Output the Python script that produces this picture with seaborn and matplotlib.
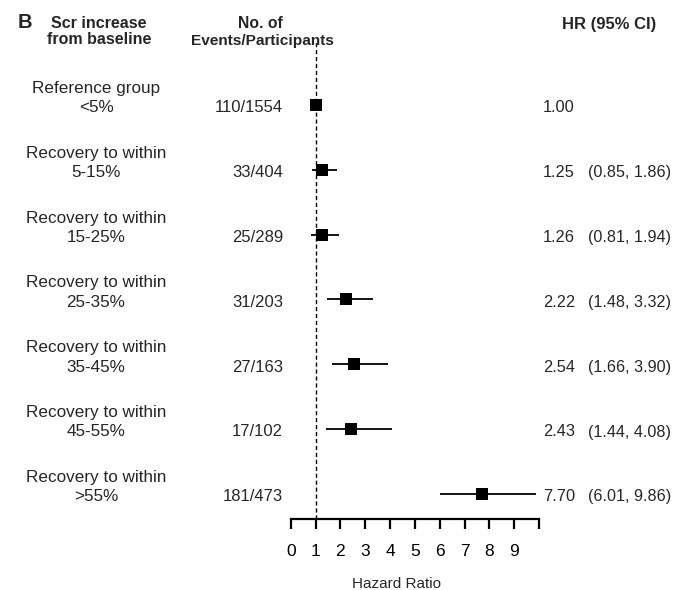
import matplotlib
matplotlib.use("Agg")
import matplotlib.pyplot as plt
import seaborn as sns
import pandas as pd

# ---- data ----
line1 = ["Reference group", "Recovery to within", "Recovery to within", "Recovery to within",
         "Recovery to within", "Recovery to within", "Recovery to within"]
line2 = ["<5%", "5-15%", "15-25%", "25-35%", "35-45%", "45-55%", ">55%"]
counts = ["110/1554", "33/404", "25/289", "31/203", "27/163", "17/102", "181/473"]
hr = [1.00, 1.25, 1.26, 2.22, 2.54, 2.43, 7.70]
lo = [None, 0.85, 0.81, 1.48, 1.66, 1.44, 6.01]
hi = [None, 1.86, 1.94, 3.32, 3.90, 4.08, 9.86]
tick_vals = list(range(0, 11))
tick_labels = ["0", "1", "2", "3", "4", "5", "6", "7", "8", "9", ""]

sns.set_theme(style="white")
plt.rcParams["font.family"] = ["Liberation Sans", "DejaVu Sans"]

W, H = 674, 590
fig = plt.figure(figsize=(W / 100, H / 100), dpi=100)
ax_left, ax_right, ax_top, ax_bot = 290.7, 539, 40, 519
ax = fig.add_axes([ax_left / W, (H - ax_bot) / H, (ax_right - ax_left) / W, (ax_bot - ax_top) / H])

df = pd.DataFrame({"row": range(len(hr)), "hr": hr})
row_px0, row_step = 105, 64.8
ylim_top = (ax_top - row_px0) / row_step
ylim_bot = (ax_bot - row_px0) / row_step

# CI lines
for i, (l, h) in enumerate(zip(lo, hi)):
    if l is not None:
        ax.hlines(i, l, h, color="black", lw=1.3, zorder=2)

ax.axvline(1, color="black", lw=1.0, ls=(0, (3, 2)), zorder=1)
sns.scatterplot(data=df, x="hr", y="row", marker="s", s=80, color="black",
                edgecolor="black", linewidth=0, ax=ax, zorder=3, legend=False)

ax.set_xlim(0, 10)
ax.set_ylim(ylim_bot, ylim_top)
ax.set_xticks(tick_vals)
ax.set_xticklabels(tick_labels, fontsize=12.5)
ax.set_yticks([])
ax.set_xlabel("")
ax.set_ylabel("")
for s in ["top", "right", "left"]:
    ax.spines[s].set_visible(False)
ax.spines["bottom"].set_linewidth(1.6)
ax.spines["bottom"].set_color("black")
ax.tick_params(axis="x", direction="out", length=7, width=1.6, color="black",
               bottom=True, pad=11, labelcolor="black")
ax.set_facecolor("none")


def ftext(x_px, y_base_px, s, **kw):
    fig.text(x_px / W, 1 - y_base_px / H, s, va="baseline", **kw)


for i in range(len(hr)):
    y = row_px0 + row_step * i
    ftext(96, y - 12, line1[i], ha="center", fontsize=12.3)
    ftext(96, y + 7.5, line2[i], ha="center", fontsize=12.3)
    ftext(283, y + 7.5, counts[i], ha="right", fontsize=12)
    ftext(543, y + 7.5, f"{hr[i]:.2f}", ha="left", fontsize=11.8)
    if lo[i] is not None:
        ftext(588, y + 7.5, f"({lo[i]:.2f}, {hi[i]:.2f})", ha="left", fontsize=11.6)

# headers
ftext(18, 28.5, "B", fontsize=14.5, fontweight="bold", ha="left")
ftext(99, 28.5, "Scr increase", fontsize=11.5, fontweight="bold", ha="center")
ftext(99, 44.5, "from baseline", fontsize=11.5, fontweight="bold", ha="center")
ftext(260, 28.5, "No. of", fontsize=11.3, fontweight="bold", ha="center")
ftext(262, 44.5, "Events/Participants", fontsize=11.1, fontweight="bold", ha="center")
ftext(609.5, 28.5, "HR (95% CI)", fontsize=12, fontweight="bold", ha="center")

# axis title
ftext(396, 588, "Hazard Ratio", fontsize=11, ha="center")

fig.savefig("out.png", dpi=100, facecolor="white")
